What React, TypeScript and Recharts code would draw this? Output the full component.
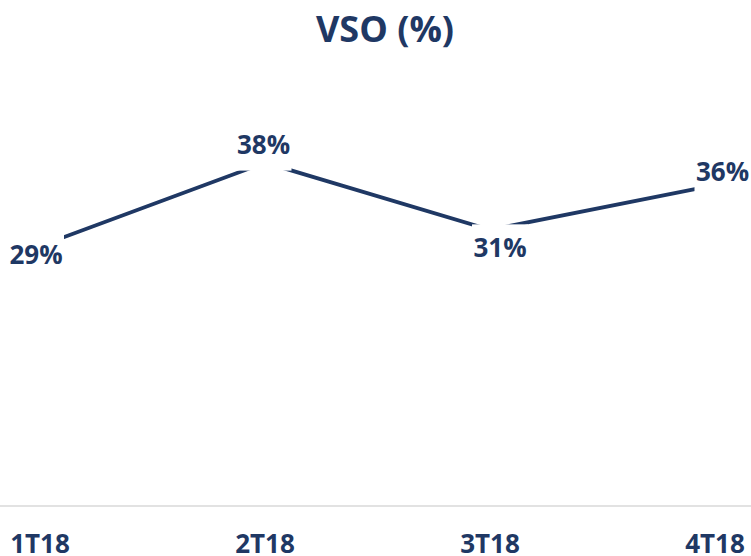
import React from "react";
import { LineChart, Line, XAxis, YAxis, LabelList } from "recharts";

const categories = ["1T18", "2T18", "3T18", "4T18"];
const vsoValues = [29, 38.3, 30.8, 35.8];
const chartTitle = "VSO (%)";

const data = categories.map((c, i) => ({ name: c, vso: vsoValues[i] }));

const NAVY = "#1F3864";
const FONT = "'Open Sans', 'Noto Sans', sans-serif";

// label placement relative to each point (layout, not data)
const labelPlacement = [
  { dx: -4, dy: 18 },
  { dx: -1.5, dy: -9 },
  { dx: 10, dy: 27 },
  { dx: 7.5, dy: -4 },
];

const PointLabel = (props: any) => {
  const { x, y, value, index } = props;
  const p = labelPlacement[index] || { dx: 0, dy: -10 };
  const cx = x + p.dx;
  const baseline = y + p.dy;
  const w = 56;
  const top = baseline - 18.5 - 14;
  const bottom = baseline + 17;
  return (
    <g>
      <rect x={cx - w / 2} y={top} width={w} height={bottom - top} fill="#ffffff" />
      <text
        x={cx}
        y={baseline}
        textAnchor="middle"
        fill={NAVY}
        fontFamily={FONT}
        fontWeight={700}
        fontSize={26}
      >
        {`${Math.round(value)}%`}
      </text>
    </g>
  );
};

const Tick = (props: any) => {
  const { x, y, payload } = props;
  return (
    <text
      x={x}
      y={y + 47}
      textAnchor="middle"
      fill={NAVY}
      fontFamily={FONT}
      fontWeight={700}
      fontSize={26}
    >
      {payload.value}
    </text>
  );
};

export default function App() {
  return (
    <div
      style={{
        position: "absolute",
        left: 0,
        top: 0,
        width: 751,
        height: 556,
        background: "#ffffff",
        overflow: "hidden",
      }}
    >
      <LineChart
        width={751}
        height={556}
        data={data}
        margin={{ top: 57.7, right: 0, left: 0, bottom: 0 }}
      >
        <XAxis
          dataKey="name"
          padding={{ left: 40, right: 36 }}
          height={50}
          axisLine={{ stroke: "#D9D9D9", strokeWidth: 1.3 }}
          tickLine={false}
          tickSize={0}
          tickMargin={0}
          tick={<Tick />}
          interval={0}
        />
        <YAxis hide domain={[0, 50]} width={0} />
        <Line
          type="linear"
          dataKey="vso"
          stroke={NAVY}
          strokeWidth={3.8}
          dot={false}
          isAnimationActive={false}
        >
          <LabelList dataKey="vso" content={<PointLabel />} />
        </Line>
      </LineChart>
      <svg
        width={751}
        height={60}
        style={{ position: "absolute", left: 0, top: 0, pointerEvents: "none" }}
      >
        <text
          x={385}
          y={42}
          textAnchor="middle"
          fill={NAVY}
          fontFamily={FONT}
          fontWeight={700}
          fontSize={36}
        >
          {chartTitle}
        </text>
      </svg>
    </div>
  );
}
